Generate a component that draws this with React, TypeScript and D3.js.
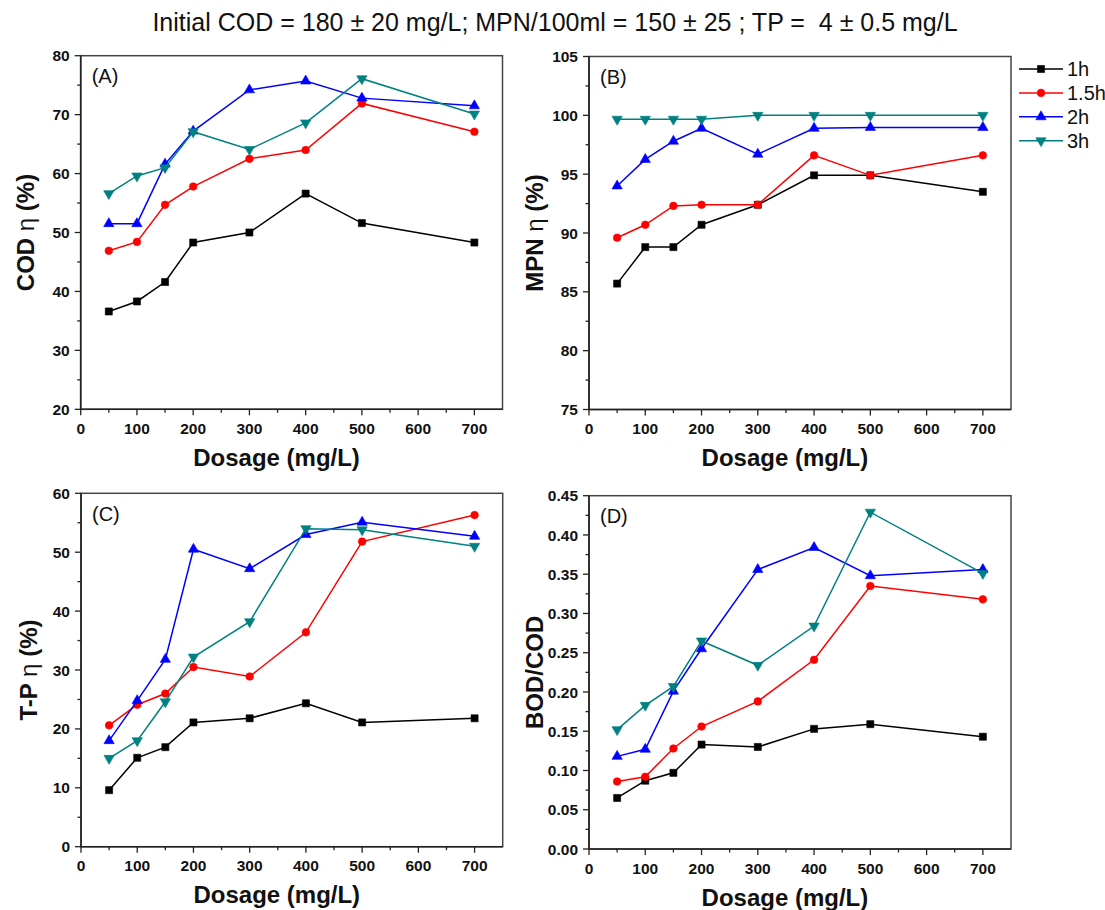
import React from "react";
import * as d3 from "d3";

// ---------- DATA ----------
const dosage = [50, 100, 150, 200, 300, 400, 500, 700];
const seriesNames = ["1h", "1.5h", "2h", "3h"];
const seriesColors = ["#000000", "#ff0000", "#0000ff", "#008080"];
const xTicks = [0, 100, 200, 300, 400, 500, 600, 700];

// (A) COD removal (%)
const cod1h = [36.6, 38.3, 41.6, 48.3, 50.0, 56.6, 51.6, 48.3];
const cod15h = [46.9, 48.4, 54.7, 57.8, 62.5, 64.0, 71.9, 67.1];
const cod2h = [51.5, 51.5, 61.6, 67.2, 74.2, 75.7, 72.8, 71.5];
const cod3h = [56.6, 59.6, 61.0, 67.1, 64.1, 68.6, 76.1, 70.1];
const codTicks = [20, 30, 40, 50, 60, 70, 80];

// (B) MPN removal (%)
const mpn1h = [85.7, 88.8, 88.8, 90.7, 92.4, 94.9, 94.9, 93.5];
const mpn15h = [89.6, 90.7, 92.3, 92.4, 92.4, 96.6, 94.9, 96.6];
const mpn2h = [94.0, 96.25, 97.8, 98.9, 96.7, 98.9, 98.97, 98.97];
const mpn3h = [99.67, 99.67, 99.67, 99.67, 100, 100, 100, 100];
const mpnTicks = [75, 80, 85, 90, 95, 100, 105];

// (C) T-P removal (%)
const tp1h = [9.6, 15.1, 16.9, 21.1, 21.8, 24.35, 21.1, 21.8];
const tp15h = [20.6, 24.1, 26.0, 30.5, 28.9, 36.4, 51.8, 56.3];
const tp2h = [18.0, 24.8, 31.8, 50.5, 47.2, 53.0, 55.1, 52.7];
const tp3h = [15.0, 18.0, 24.6, 32.2, 38.2, 54.0, 53.8, 51.0];
const tpTicks = [0, 10, 20, 30, 40, 50, 60];

// (D) BOD/COD
const bod1h = [0.065, 0.087, 0.097, 0.133, 0.130, 0.153, 0.159, 0.143];
const bod15h = [0.086, 0.092, 0.128, 0.156, 0.188, 0.241, 0.335, 0.318];
const bod2h = [0.118, 0.127, 0.201, 0.255, 0.356, 0.384, 0.348, 0.356];
const bod3h = [0.152, 0.183, 0.207, 0.265, 0.234, 0.284, 0.429, 0.351];
const bodTicks = [0, 0.05, 0.1, 0.15, 0.2, 0.25, 0.3, 0.35, 0.4, 0.45];

const titleText =
  "Initial COD = 180 \u00B1 20 mg/L; MPN/100ml = 150 \u00B1 25 ; TP =  4 \u00B1 0.5 mg/L";

// ---------- LAYOUT ----------
const W = 1105;
const H = 910;
const FONT = "Arial, 'Liberation Sans', Helvetica, sans-serif";

type Panel = {
  label: string;
  box: { l: number; r: number; t: number; b: number };
  yDomain: [number, number];
  yTicks: number[];
  yFmt: (v: number) => string;
  yTitle: [string, string, string];
  series: number[][];
  titleX: number;
};

const panels: Panel[] = [
  {
    label: "(A)",
    box: { l: 80.7, r: 502.5, t: 55.7, b: 409.3 },
    yDomain: [20, 80],
    yTicks: codTicks,
    yFmt: (v) => String(v),
    yTitle: ["COD ", "\u03B7", " (%)"],
    series: [cod1h, cod15h, cod2h, cod3h],
    titleX: 25,
  },
  {
    label: "(B)",
    box: { l: 589, r: 1011, t: 56.5, b: 409.5 },
    yDomain: [75, 105],
    yTicks: mpnTicks,
    yFmt: (v) => String(v),
    yTitle: ["MPN ", "\u03B7", " (%)"],
    series: [mpn1h, mpn15h, mpn2h, mpn3h],
    titleX: 534,
  },
  {
    label: "(C)",
    box: { l: 81, r: 502.7, t: 493.3, b: 846.7 },
    yDomain: [0, 60],
    yTicks: tpTicks,
    yFmt: (v) => String(v),
    yTitle: ["T-P ", "\u03B7", " (%)"],
    series: [tp1h, tp15h, tp2h, tp3h],
    titleX: 28,
  },
  {
    label: "(D)",
    box: { l: 589, r: 1011, t: 495.7, b: 849 },
    yDomain: [0, 0.45],
    yTicks: bodTicks,
    yFmt: (v) => d3.format(".2f")(v),
    yTitle: ["BOD/COD", "", ""],
    series: [bod1h, bod15h, bod2h, bod3h],
    titleX: 534,
  },
];

const symbolTypes = [d3.symbolSquare, d3.symbolCircle, d3.symbolTriangle, d3.symbolTriangle];
const symbolSizes = [50, 46, 46, 46];
const symbolRot = [0, 0, 0, 180];

function Marker({ i, x, y }: { i: number; x: number; y: number }) {
  const path = d3.symbol().type(symbolTypes[i]).size(symbolSizes[i])() || "";
  return (
    <path
      d={path}
      transform={`translate(${x},${y}) rotate(${symbolRot[i]})`}
      fill={seriesColors[i]}
      stroke={seriesColors[i]}
      strokeWidth={0.6}
    />
  );
}

function PanelView({ p }: { p: Panel }) {
  const { l, r, t, b } = p.box;
  const x = d3.scaleLinear().domain([0, 750]).range([l, r]);
  const y = d3.scaleLinear().domain(p.yDomain).range([b, t]);
  const step = p.yTicks[1] - p.yTicks[0];
  const yMinor = d3.range(p.yDomain[0] + step / 2, p.yDomain[1], step);
  const xMinor = d3.range(50, 750, 100);
  const line = d3
    .line<number>()
    .x((_, k) => x(dosage[k]))
    .y((v) => y(v));
  const axisColor = "#222";
  return (
    <g>
      <rect x={l} y={t} width={r - l} height={b - t} fill="none" stroke="#444" strokeWidth={1.5} />
      <line x1={l} x2={l} y1={t} y2={b} stroke={axisColor} strokeWidth={1.6} />
      <line x1={l} x2={r} y1={b} y2={b} stroke={axisColor} strokeWidth={1.6} />
      {p.yTicks.map((v) => (
        <g key={"yt" + v}>
          <line x1={l - 6} x2={l} y1={y(v)} y2={y(v)} stroke={axisColor} strokeWidth={1.3} />
          <text
            x={l - 11}
            y={y(v)}
            dy="0.36em"
            textAnchor="end"
            fontFamily={FONT}
            fontWeight="bold"
            fontSize={15.5}
            fill="#111"
          >
            {p.yFmt(v)}
          </text>
        </g>
      ))}
      {yMinor.map((v) => (
        <line key={"ym" + v} x1={l - 3.5} x2={l} y1={y(v)} y2={y(v)} stroke={axisColor} strokeWidth={1.3} />
      ))}
      {xTicks.map((v) => (
        <g key={"xt" + v}>
          <line x1={x(v)} x2={x(v)} y1={b} y2={b + 6} stroke={axisColor} strokeWidth={1.3} />
          <text
            x={x(v)}
            y={b + 19}
            dy="0.36em"
            textAnchor="middle"
            fontFamily={FONT}
            fontWeight="bold"
            fontSize={15.5}
            fill="#111"
          >
            {v}
          </text>
        </g>
      ))}
      {xMinor.map((v) => (
        <line key={"xm" + v} x1={x(v)} x2={x(v)} y1={b} y2={b + 3.5} stroke={axisColor} strokeWidth={1.3} />
      ))}
      <text
        x={x(350) - 1}
        y={b + 48}
        dy="0.36em"
        textAnchor="middle"
        fontFamily={FONT}
        fontWeight="bold"
        fontSize={24}
        fill="#111"
      >
        Dosage (mg/L)
      </text>
      <text
        transform={`translate(${p.titleX},${(t + b) / 2}) rotate(-90)`}
        dy="0.36em"
        textAnchor="middle"
        fontFamily={FONT}
        fontWeight="bold"
        fontSize={24}
        fill="#111"
      >
        <tspan>{p.yTitle[0]}</tspan>
        {p.yTitle[1] && <tspan fontWeight="normal">{p.yTitle[1]}</tspan>}
        {p.yTitle[2] && <tspan>{p.yTitle[2]}</tspan>}
      </text>
      <text x={l + 11} y={t + 27.5} fontFamily={FONT} fontSize={20} fill="#111">
        {p.label}
      </text>
      {p.series.map((vals, i) => (
        <g key={"s" + i}>
          <path d={line(vals) || ""} fill="none" stroke={seriesColors[i]} strokeWidth={1.5} />
          {vals.map((v, k) => (
            <Marker key={k} i={i} x={x(dosage[k])} y={y(v)} />
          ))}
        </g>
      ))}
    </g>
  );
}

function Legend() {
  const x0 = 1019;
  const x1 = 1063;
  const y0 = 69;
  const dy = 23.9;
  return (
    <g>
      {seriesNames.map((name, i) => (
        <g key={name}>
          <line x1={x0} x2={x1} y1={y0 + i * dy} y2={y0 + i * dy} stroke={seriesColors[i]} strokeWidth={1.5} />
          <Marker i={i} x={(x0 + x1) / 2} y={y0 + i * dy} />
          <text x={x1 + 4} y={y0 + i * dy} dy="0.36em" fontFamily={FONT} fontSize={20} fill="#111">
            {name}
          </text>
        </g>
      ))}
    </g>
  );
}

export default function App() {
  return (
    <svg
      width={W}
      height={H}
      viewBox={`0 0 ${W} ${H}`}
      style={{ position: "absolute", left: 0, top: 0, background: "#fff" }}
    >
      <rect width={W} height={H} fill="#fff" />
      <text
        x={555}
        y={22}
        dy="0.36em"
        textAnchor="middle"
        fontFamily={FONT}
        fontSize={25}
        fill="#111"
        style={{ whiteSpace: "pre" }}
      >
        {titleText}
      </text>
      {panels.map((p) => (
        <PanelView key={p.label} p={p} />
      ))}
      <Legend />
    </svg>
  );
}
